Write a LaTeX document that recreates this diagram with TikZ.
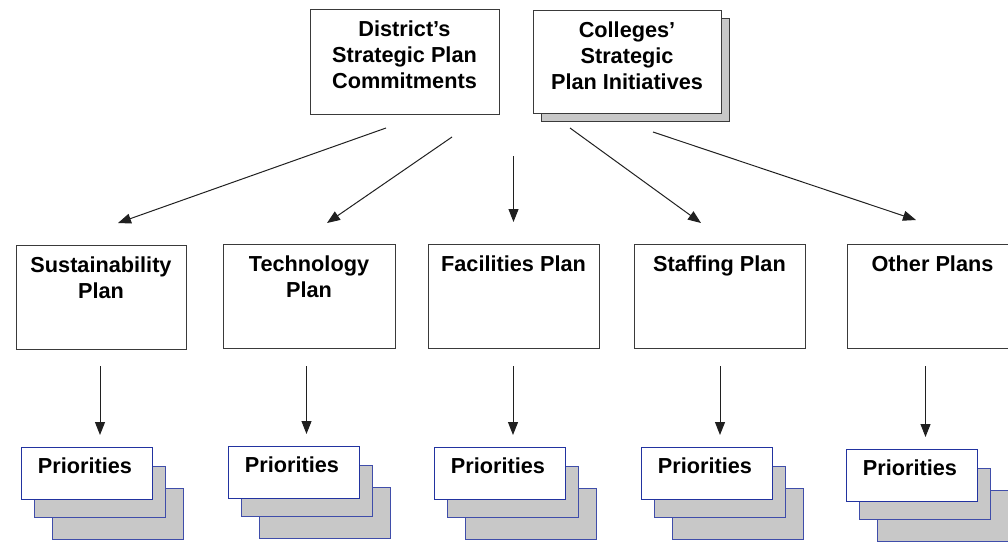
\documentclass[tikz,border=0pt]{standalone}
\usepackage{fontspec}
\setmainfont{Liberation Sans}
\usetikzlibrary{arrows.meta}
\definecolor{edgegray}{HTML}{3A3A3A}
\definecolor{arrowgray}{HTML}{202020}
\definecolor{shade}{HTML}{C8C8C8}
\definecolor{frontblue}{HTML}{2233A0}
\definecolor{backblue}{HTML}{3F4DAA}
\begin{document}
\begin{tikzpicture}[x=1pt,y=-1pt,
  planbox/.style={draw=edgegray, line width=1pt, fill=white, rectangle, inner sep=0pt},
  shadowbox/.style={draw=edgegray, line width=1pt, fill=shade, rectangle, inner sep=0pt},
  boxtext/.style={anchor=north, inner sep=0pt, align=center,
    font=\fontsize{21.7}{26}\selectfont\bfseries},
  priofront/.style={draw=frontblue, line width=1pt, fill=white, rectangle, inner sep=0pt,
    minimum width=131pt, minimum height=52pt},
  prioback/.style={draw=backblue, line width=1pt, fill=shade, rectangle, inner sep=0pt,
    minimum width=131pt, minimum height=51pt},
  flow/.style={draw=arrowgray, line width=1pt, -{Triangle[length=13pt,width=10pt]}}
]
\useasboundingbox (0,0) rectangle (1008,558);
\clip (0,0) rectangle (1008,558);

% top row: sources of the plans
\node[planbox, minimum width=189pt, minimum height=105pt] (district) at (404.5,61.5) {};
\node[boxtext] (districtT) at ([yshift=-12pt]district.north) {District’s\\Strategic Plan\\Commitments};
\node[shadowbox, minimum width=188pt, minimum height=103pt] (collegesShadow) at (635,69.5) {};
\node[planbox, minimum width=188pt, minimum height=103pt] (colleges) at (627,61.5) {};
\node[boxtext] (collegesT) at ([yshift=-12pt]colleges.north) {Colleges’\\Strategic\\Plan Initiatives};

% middle row: the individual plans
\foreach \nm/\cx/\cy/\w/\txt in {
    sus/101/297.5/170/{Sustainability\\Plan},
    tec/309/296.5/172/{Technology\\Plan},
    fac/513.5/296.5/171/{Facilities Plan},
    sta/719.5/296.5/171/{Staffing Plan},
    oth/932.5/296.5/171/{Other Plans}} {
  \node[planbox, minimum width=\w pt, minimum height=104pt] (\nm) at (\cx,\cy) {};
  \node[boxtext] (\nm T) at ([yshift=-12pt]\nm.north) {\txt};
}

% arrows fanning out from the strategic plans
\coordinate (a1s) at (386,128);   \coordinate (a1e) at (118,223);
\coordinate (a2s) at (452,137);   \coordinate (a2e) at (327,223);
\coordinate (a3s) at (513.5,156); \coordinate (a3e) at (513.5,222);
\coordinate (a4s) at (570,128);   \coordinate (a4e) at (701,223);
\coordinate (a5s) at (653,132);   \coordinate (a5e) at (916,220);
\foreach \i in {1,...,5} { \draw[flow] (a\i s) -- (a\i e); }

% stacks of priorities under each plan
\foreach \nm/\x/\y/\ax in {
    sus/21/447/100, tec/228/446/306.5, fac/434/447/513,
    sta/641/447/720, oth/846/449/925.5} {
  \node[prioback] (\nm P3) at (\x+96.5,\y+67) {};
  \node[prioback] (\nm P2) at (\x+78.5,\y+45) {};
  \node[priofront] (\nm P1) at (\x+65.5,\y+26) {};
  \node[boxtext] (\nm PT) at ([xshift=-1.5pt,yshift=-11pt]\nm P1.north) {Priorities};
  \coordinate (\nm Ds) at (\ax,366);
  \coordinate (\nm De) at (\ax,\y-12);
  \draw[flow] (\nm Ds) -- (\nm De);
}
\end{tikzpicture}
\end{document}
